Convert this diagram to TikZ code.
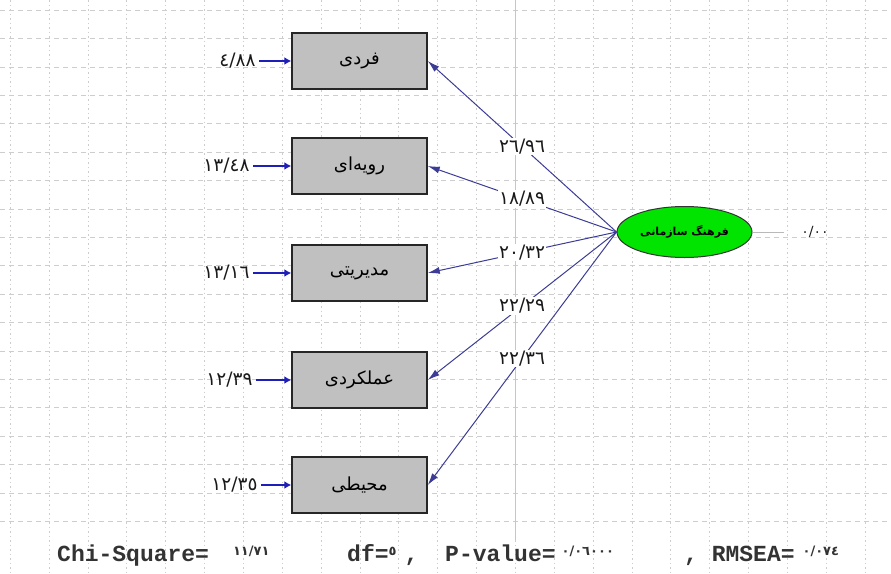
\documentclass[tikz,border=0pt]{standalone}
\usepackage{fontspec}
\usetikzlibrary{arrows.meta,shapes.geometric,backgrounds}
\TeXXeTstate=1
\newfontfamily\arabicfont[Script=Arabic]{DejaVu Sans}
\newfontfamily\statfont{Liberation Mono}
\definecolor{pathblue}{RGB}{60,60,150}
\definecolor{errblue}{RGB}{30,30,185}
\definecolor{boxgray}{RGB}{192,192,192}
\definecolor{factgreen}{RGB}{0,228,0}
\definecolor{gridgray}{RGB}{205,205,205}
\newcommand{\fa}[1]{\beginR #1\endR}
\newcommand{\smnum}[1]{\raisebox{6pt}{\arabicfont\fontsize{13}{13}\selectfont #1}}

\begin{document}
\begin{tikzpicture}[x=1pt,y=-1pt,
    gridv/.style={draw=gridgray,dash pattern=on 1.5pt off 3pt},
    gridh/.style={draw=gridgray,dash pattern=on 5pt off 4pt},
    ind/.style={rectangle,draw=black!85,line width=1.5pt,fill=boxgray,
      minimum width=135pt,minimum height=56pt,
      font=\arabicfont\fontsize{18}{18}\selectfont},
    fact/.style={ellipse,draw=black!80,line width=1pt,fill=factgreen,
      minimum width=135pt,minimum height=51pt,
      font=\arabicfont\bfseries\fontsize{11}{11}\selectfont},
    num/.style={font=\arabicfont\fontsize{18.5}{18}\selectfont,text=black!90},
    plab/.style={num,fill=white,inner sep=1pt},
    loading/.style={draw=pathblue,line width=1pt,-{Latex[length=12pt,width=7pt]}},
    errarr/.style={draw=errblue,line width=2.4pt,-{Latex[length=7pt,width=8pt]}},
    stat/.style={font=\statfont\bfseries\fontsize{23}{23}\selectfont,text=black!80,
      anchor=base west,inner sep=0pt}]

\useasboundingbox (0,0) rectangle (891,573);

\foreach \k in {0,...,22}
  \draw[gridv] ({10+38.86*\k},0) -- ({10+38.86*\k},573);
\foreach \k in {0,...,18}
  \draw[gridh] (0,{10+28.4*\k}) -- (891,{10+28.4*\k});
\draw[gray!45,line width=1pt] (515,0) -- (515,540);

\begin{scope}[every node/.style={ind}]
  \node (b1) at (359.5,61) {\fa{فردی}};
  \node (b2) at (359.5,166) {\fa{رویه‌ای}};
  \node (b3) at (359.5,273) {\fa{مدیریتی}};
  \node (b4) at (359.5,380) {\fa{عملکردی}};
  \node (b5) at (359.5,485) {\fa{محیطی}};
\end{scope}

\node[fact] (f) at (684.5,232) {\fa{فرهنگ سازمانی}};

\begin{scope}[every node/.style={num,anchor=east}]
  \node (e1) at (259,61) {٤/٨٨};
  \node (e2) at (253,166) {١٣/٤٨};
  \node (e3) at (253,273) {١٣/١٦};
  \node (e4) at (256,380) {١٢/٣٩};
  \node (e5) at (261,485) {١٢/٣٥};
\end{scope}

\foreach \i in {1,...,5}
  \draw[errarr] (e\i) -- (b\i);

\foreach \i/\w in {1/{٢٦/٩٦},2/{١٨/٨٩},3/{٢٠/٣٢},4/{٢٢/٢٩},5/{٢٢/٣٦}}
  \draw[loading] (f.west) -- node[plab] (l\i) {\w} (b\i.east);

\node[num,font=\arabicfont\fontsize{14}{14}\selectfont] (z) at (815,232) {٠/٠٠};
\draw[gray!55,line width=0.8pt,shorten >=14pt] (f) -- (z);

\node[stat] (chi) at (57,561) {Chi-Square=\hspace{24pt}\smnum{١١/٧١}};
\node[stat] (df) at (347,561) {df=\smnum{٥}\hspace{8pt},};
\node[stat] (pv) at (445,561) {P-value=\hspace{6pt}\smnum{٠/٠٦٠٠٠}};
\node[stat] (rm) at (684,561) {, RMSEA=\hspace{8pt}\smnum{٠/٠٧٤}};

\end{tikzpicture}
\end{document}
